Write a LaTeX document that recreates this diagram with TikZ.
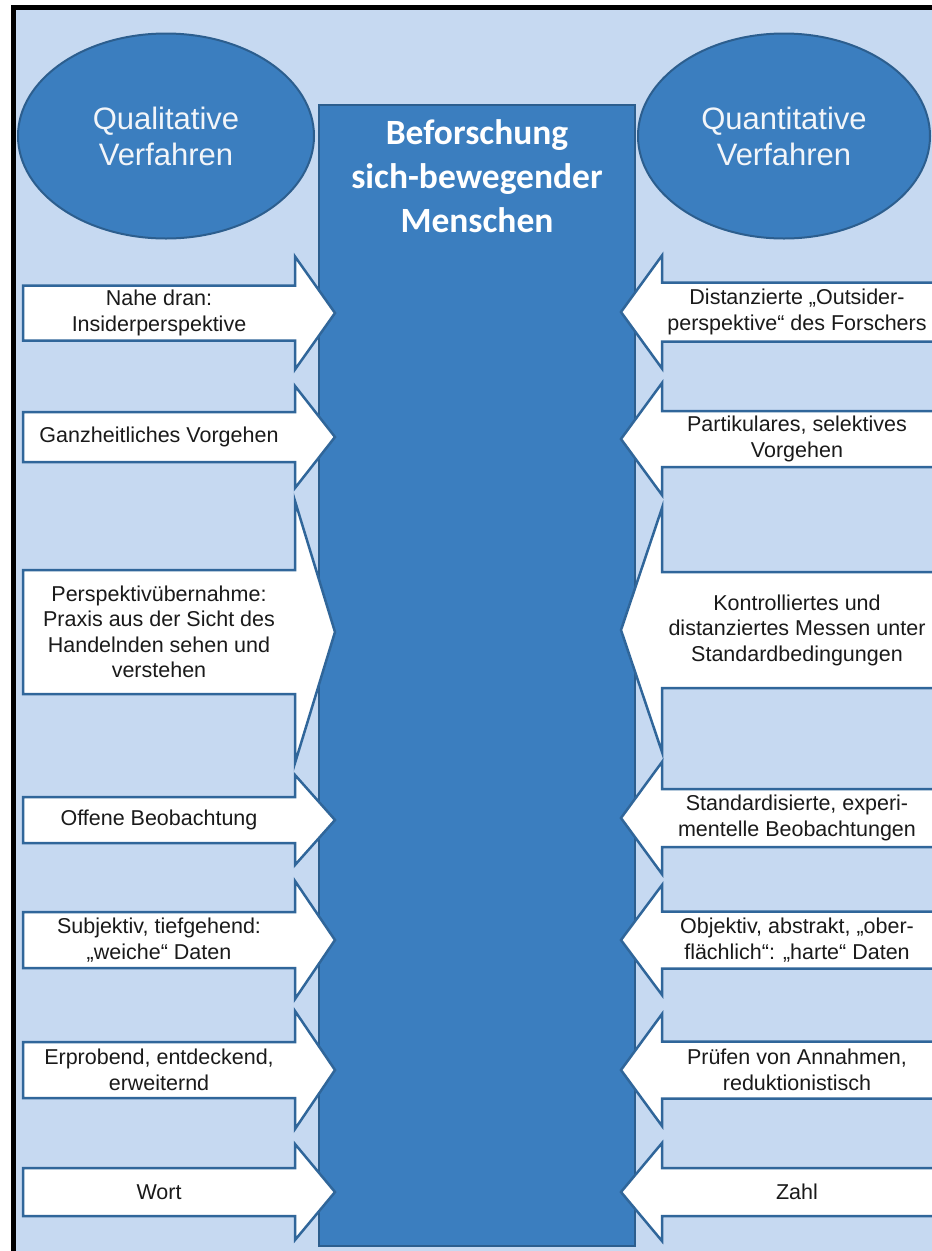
\documentclass[tikz,border=0pt]{standalone}
\usepackage{fontspec}
\setmainfont{Liberation Sans}
\newfontfamily\titlefont{Carlito}
\usetikzlibrary{shapes.geometric}

\definecolor{pagebg}{HTML}{C6D9F1}
\definecolor{midblue}{HTML}{3B7EBF}
\definecolor{edgeblue}{HTML}{2C5E8E}
\definecolor{arrowedge}{HTML}{30669A}
\definecolor{textdark}{HTML}{1A1A1A}
\definecolor{softwhite}{HTML}{F2F5F9}

\tikzset{
  arrowshape/.style={draw=arrowedge, line width=2.5pt, fill=white, line join=miter},
  arrowtext/.style={align=center, font=\fontsize{21.5}{25.5}\selectfont, text=textdark, inner sep=0pt},
  ovalshape/.style={ellipse, draw=edgeblue, line width=2pt, fill=midblue,
    minimum height=205pt, inner sep=0pt, align=center, text=softwhite,
    font=\fontsize{31}{36}\selectfont},
  coreshape/.style={draw=edgeblue, line width=2pt, fill=midblue},
  titletext/.style={align=center, text=white, inner sep=0pt,
    font=\titlefont\bfseries\fontsize{35.5}{44}\selectfont},
}

% arrow pointing right: name, centre y, body half height, head half height, text
\newcommand\rightarrowbox[5]{%
  \draw[arrowshape] (23,#2-#3) -- (295,#2-#3) -- (295,#2-#4) -- (335,#2)
    -- (295,#2+#4) -- (295,#2+#3) -- (23,#2+#3) -- cycle;
  \node[arrowtext] (#1) at (159,#2) {#5};}
% arrow pointing left: name, centre y, body half height, head half height, text
\newcommand\leftarrowbox[5]{%
  \draw[arrowshape] (945,#2-#3) -- (662,#2-#3) -- (662,#2-#4) -- (621,#2)
    -- (662,#2+#4) -- (662,#2+#3) -- (945,#2+#3) -- cycle;
  \node[arrowtext] (#1) at (797,#2) {#5};}

\begin{document}
\begin{tikzpicture}[x=1pt, y=-1pt]
  \useasboundingbox (0,0) rectangle (932,1251);
  \fill[white] (0,0) rectangle (932,1251);
  \fill[pagebg] (16,9.5) rectangle (932,1251);
  % frame
  \fill[black] (11,5) rectangle (932,9.5);
  \fill[black] (11,5) rectangle (16,1251);

  % the two approaches
  \node[ovalshape, minimum width=296pt] (qual) at (166,136) {Qualitative\\Verfahren};
  \node[ovalshape, minimum width=292pt] (quant) at (784,136) {Quantitative\\Verfahren};

  % central column
  \draw[coreshape] (319,105) rectangle (635,1246);
  \node[titletext] (title) at (477,176) {Beforschung\\sich-bewegender\\Menschen};

  % qualitative side
  \rightarrowbox{q1}{313}{27.5}{56.5}{Nahe dran:\\Insiderperspektive}
  \rightarrowbox{q2}{437}{25}{51}{Ganzheitliches Vorgehen}
  \rightarrowbox{q3}{632}{62}{131}{Perspektivübernahme:\\Praxis aus der Sicht des\\Handelnden sehen und\\verstehen}
  \rightarrowbox{q4}{820}{23}{45}{Offene Beobachtung}
  \rightarrowbox{q5}{940}{28}{59}{Subjektiv, tiefgehend:\\„weiche“ Daten}
  \rightarrowbox{q6}{1070}{28}{59}{Erprobend, entdeckend,\\erweiternd}
  \rightarrowbox{q7}{1192}{24}{48}{Wort}

  % quantitative side
  \leftarrowbox{n1}{312}{29.5}{56.5}{Distanzierte „Outsider-\\perspektive“ des Forschers}
  \leftarrowbox{n2}{439}{28}{56}{Partikulares, selektives\\Vorgehen}
  \leftarrowbox{n3}{630}{58}{122}{Kontrolliertes und\\distanziertes Messen unter\\Standardbedingungen}
  \leftarrowbox{n4}{818}{29}{56}{Standardisierte, experi-\\mentelle Beobachtungen}
  \leftarrowbox{n5}{940}{28.5}{55}{Objektiv, abstrakt, „ober-\\flächlich“: „harte“ Daten}
  \leftarrowbox{n6}{1070}{28.5}{56}{Prüfen von Annahmen,\\reduktionistisch}
  \leftarrowbox{n7}{1192}{24}{49}{Zahl}
\end{tikzpicture}
\end{document}
